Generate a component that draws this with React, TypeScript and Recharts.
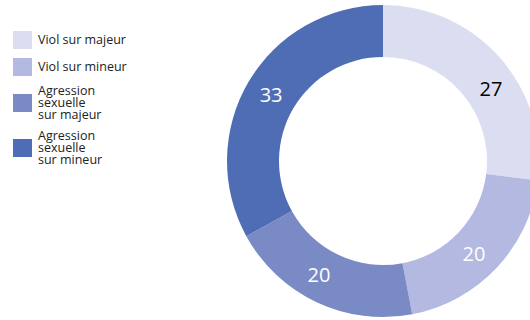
import React from "react";
import { PieChart, Pie, Cell } from "recharts";

const categories = [
  "Viol sur majeur",
  "Viol sur mineur",
  "Agression\nsexuelle\nsur majeur",
  "Agression\nsexuelle\nsur mineur",
];
const values = [27, 20, 20, 33];
const COLORS = ["#dbdef0", "#b3b9e0", "#7a8ac4", "#4f6db5"];
const LABEL_COLORS = ["#000000", "#ffffff", "#ffffff", "#ffffff"];
// small angular nudge (degrees, clockwise) of each value label
const LABEL_SHIFT = [7.5, 2.4, 4.3, 0];

const data = categories.map((name, i) => ({ name, value: values[i] }));

const FONT = "'Open Sans', sans-serif";
const RAD = Math.PI / 180;

function renderLabel(props: any) {
  const { cx, cy, midAngle, innerRadius, outerRadius, value, index } = props;
  const r = (innerRadius + outerRadius) / 2;
  const a = midAngle - LABEL_SHIFT[index];
  const x = cx + r * Math.cos(-a * RAD);
  const y = cy + r * Math.sin(-a * RAD);
  return (
    <text
      x={x}
      y={y}
      fill={LABEL_COLORS[index]}
      textAnchor="middle"
      dominantBaseline="central"
      fontSize={20}
      fontFamily={FONT}
    >
      {value}
    </text>
  );
}

function ChartLegend() {
  return (
    <div
      style={{
        position: "absolute",
        left: 13,
        top: 31,
        display: "flex",
        flexDirection: "column",
        gap: 9,
        fontFamily: FONT,
        zIndex: 1,
      }}
    >
      {categories.map((name, i) => (
        <div key={i} style={{ display: "flex", alignItems: "center" }}>
          <div style={{ width: 19, height: 18, background: COLORS[i], flexShrink: 0 }} />
          <div
            style={{
              marginLeft: 6,
              fontSize: 12.5,
              lineHeight: "12px",
              color: "#222",
              whiteSpace: "pre-line",
            }}
          >
            {name}
          </div>
        </div>
      ))}
    </div>
  );
}

export default function App() {
  return (
    <div
      style={{
        position: "fixed",
        left: 0,
        top: 0,
        width: 530,
        height: 320,
        background: "#fff",
        overflow: "hidden",
      }}
    >
      <ChartLegend />
      <PieChart width={530} height={320} margin={{ top: 0, right: 0, bottom: 0, left: 0 }}>
        <Pie
          data={data}
          dataKey="value"
          nameKey="name"
          cx={383}
          cy={161}
          innerRadius={104}
          outerRadius={156}
          startAngle={90}
          endAngle={-270}
          stroke="none"
          label={renderLabel}
          labelLine={false}
          isAnimationActive={false}
        >
          {data.map((_, i) => (
            <Cell key={i} fill={COLORS[i]} />
          ))}
        </Pie>
      </PieChart>
    </div>
  );
}
